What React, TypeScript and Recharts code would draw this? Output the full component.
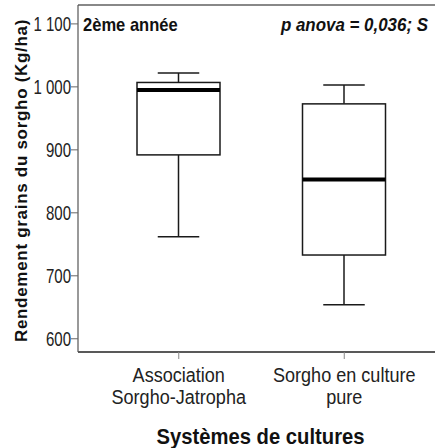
import { ComposedChart, Bar, XAxis, YAxis, ReferenceLine, Customized } from "recharts";

const categories = ["Association|Sorgho-Jatropha", "Sorgho en culture|pure"];
const whiskerLow = [762, 654];
const quartile1 = [892, 733];
const medians = [995, 853];
const quartile3 = [1007, 973];
const whiskerHigh = [1022, 1003];
const yTicks = [600, 700, 800, 900, 1000, 1100];
const yDomain = [579, 1130];

const data = categories.map((name, i) => ({
  name,
  range: [whiskerLow[i], whiskerHigh[i]],
  low: whiskerLow[i],
  q1: quartile1[i],
  median: medians[i],
  q3: quartile3[i],
  high: whiskerHigh[i],
}));

const sans = "'Liberation Sans', Arial, sans-serif";
const ink = "#1a1a1a";

const formatTick = (v: number) =>
  v >= 1000 ? `${Math.floor(v / 1000)} ${String(v % 1000).padStart(3, "0")}` : `${v}`;

// no narrow font installed, so squeeze Liberation Sans horizontally
const NText = ({ x, y, sx = 0.85, children, ...rest }: any) => (
  <text transform={`translate(${x} ${y}) scale(${sx} 1)`} x={0} y={0} fontFamily={sans} {...rest}>
    {children}
  </text>
);

// draws the whole box + whiskers inside the bar rectangle that spans low..high
const BoxShape = (props: any) => {
  const { x, y, width, height, payload } = props;
  const k = height / (payload.high - payload.low);
  const py = (v: number) => y + (payload.high - v) * k;
  const cx = x + width / 2;
  const cap = width / 4;
  return (
    <g>
      <line x1={cx} x2={cx} y1={py(payload.high)} y2={py(payload.q3)} stroke={ink} strokeWidth={1.5} />
      <line x1={cx} x2={cx} y1={py(payload.q1)} y2={py(payload.low)} stroke={ink} strokeWidth={1.5} />
      <line x1={cx - cap} x2={cx + cap} y1={py(payload.high)} y2={py(payload.high)} stroke={ink} strokeWidth={1.5} />
      <line x1={cx - cap} x2={cx + cap} y1={py(payload.low)} y2={py(payload.low)} stroke={ink} strokeWidth={1.5} />
      <rect
        x={x}
        y={py(payload.q3)}
        width={width}
        height={py(payload.q1) - py(payload.q3)}
        fill="#fff"
        stroke={ink}
        strokeWidth={1.5}
      />
      <line x1={x} x2={x + width} y1={py(payload.median)} y2={py(payload.median)} stroke="#000" strokeWidth={4} />
    </g>
  );
};

const CategoryTick = ({ x, y, payload }: any) => {
  const lines = String(payload.value).split("|");
  return (
    <NText x={x} y={y} sx={0.86} textAnchor="middle" fontSize={21} fill="#222">
      {lines.map((l, i) => (
        <tspan key={i} x={0} dy={i === 0 ? 21 : 22}>
          {l}
        </tspan>
      ))}
    </NText>
  );
};

const ValueTick = ({ x, y, payload }: any) => (
  <NText x={x} y={y} sx={0.77} textAnchor="end" dy="0.36em" fontSize={19.5} fill="#222">
    {formatTick(payload.value)}
  </NText>
);

const Annotations = () => (
  <g>
    <NText x={83} y={31} sx={0.92} fontSize={18} fontWeight="bold" fill="#111">
      2ème année
    </NText>
    <NText x={428} y={31} sx={0.94} textAnchor="end" fontSize={18} fontWeight="bold" fontStyle="italic" fill="#111">
      p anova = 0,036; S
    </NText>
  </g>
);

export default function App() {
  return (
    <div style={{ position: "absolute", left: 0, top: 0, background: "#fff" }}>
      <ComposedChart width={435} height={448} data={data} margin={{ top: 5, right: 0, bottom: 0, left: 0 }}>
        <XAxis
          dataKey="name"
          height={96}
          padding={{ left: 18, right: 8 }}
          axisLine={{ stroke: "#222", strokeWidth: 1.5 }}
          tickLine={{ stroke: "#888" }}
          tickSize={7}
          tick={<CategoryTick />}
          interval={0}
          label={{
            content: ({ viewBox }: any) => (
              <NText
                x={viewBox.x + viewBox.width / 2 + 4}
                y={444}
                sx={0.92}
                textAnchor="middle"
                fontSize={22}
                fontWeight="bold"
                fill="#111"
              >
                Systèmes de cultures
              </NText>
            ),
          }}
        />
        <YAxis
          type="number"
          domain={yDomain}
          ticks={yTicks}
          allowDataOverflow
          width={78}
          tickSize={7}
          tickMargin={0}
          tick={<ValueTick />}
          tickLine={{ stroke: "#666" }}
          axisLine={{ stroke: "#555", strokeWidth: 1.2 }}
          label={{
            content: ({ viewBox }: any) => {
              const cx = 21;
              const cy = viewBox.y + viewBox.height / 2 + 2;
              return (
                <text
                  x={cx}
                  y={cy}
                  transform={`rotate(-90 ${cx} ${cy})`}
                  textAnchor="middle"
                  dominantBaseline="central"
                  fontFamily={sans}
                  fontSize={17}
                  letterSpacing={0.7}
                  fontWeight="bold"
                  fill="#111"
                >
                  Rendement grains du sorgho (Kg/ha)
                </text>
              );
            },
          }}
        />
        <ReferenceLine y={yDomain[1]} stroke="#888" strokeWidth={2} />
        <Bar dataKey="range" barSize={83} shape={<BoxShape />} isAnimationActive={false} />
        <Customized component={Annotations} />
      </ComposedChart>
    </div>
  );
}
